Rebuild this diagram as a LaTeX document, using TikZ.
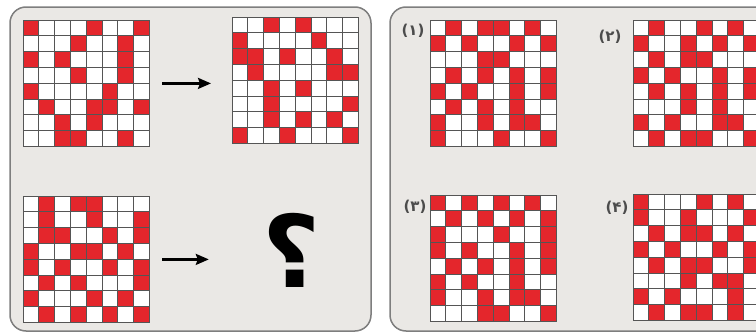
\documentclass[tikz,border=0pt]{standalone}
\usepackage{fontspec}
\usetikzlibrary{calc,arrows.meta}
\newfontfamily\arabicfont[Script=Arabic]{DejaVu Sans}
\definecolor{cellred}{HTML}{E4262C}
\definecolor{panelgray}{HTML}{EAE8E5}
\definecolor{rimgray}{HTML}{7E7E7E}
\definecolor{linegray}{HTML}{555555}
\def\cw{15.8}
% red cells of an 8x8 chart, one list of columns per row
\newcommand\drawchart[2]{%
  \foreach \cells [count=\ri] in {#2}
    \foreach \ci in \cells
      \fill[cellred] ($(#1.north west)+(\ci*\cw-\cw,\ri*\cw-\cw)$) rectangle +(\cw,\cw);
  \foreach \k in {1,...,7} {
    \draw[linegray,line width=.8pt] ($(#1.north west)+(\k*\cw,0)$) -- +(0,8*\cw);
    \draw[linegray,line width=.8pt] ($(#1.north west)+(0,\k*\cw)$) -- +(8*\cw,0);
  }
  \draw[linegray,line width=1pt] (#1.north west) rectangle (#1.south east);
}
\begin{document}
\begin{tikzpicture}
  [x=1pt,y=-1pt,
   chart/.style={minimum width=126.4pt,minimum height=126.4pt,inner sep=0pt,anchor=north west,fill=white},
   panel/.style={draw=rimgray,line width=1.5pt,fill=panelgray,rounded corners=16pt},
   arr/.style={line width=2.4pt,-{Stealth[length=13pt,width=11pt,inset=2pt]}},
   tag/.style={font=\arabicfont\bfseries\fontsize{15}{15}\selectfont,text=black!70,inner sep=0pt}]
  \path[use as bounding box] (0,0) rectangle (756,332);
  \clip (0,0) rectangle (756,332);
  \draw[panel] (10,7) rectangle (371,331);
  \draw[panel] (390,7) rectangle (780,331);

  \node[chart] (g1) at (23,20)  {};
  \node[chart] (g2) at (232,17) {};
  \node[chart] (g3) at (23,196) {};
  \node[chart] (o1) at (430,20) {};
  \node[chart] (o2) at (633,20) {};
  \node[chart] (o3) at (430,195) {};
  \node[chart] (o4) at (633,194) {};

  \node[tag] (t1) at (413,31)  {(۱)};
  \node[tag] (t2) at (610,37)  {(۲)};
  \node[tag] (t3) at (415,207) {(۳)};
  \node[tag] (t4) at (617,208) {(۴)};
  \node[font=\arabicfont\bfseries\fontsize{100}{100}\selectfont,inner sep=0pt] (q) at (292,250) {؟};

  \draw[arr,shorten <=12.6pt,shorten >=21pt] (g1.east) -- (g1.east -| g2.west);
  \draw[arr,shorten <=12.6pt,shorten >=54pt] (g3.east) -- (g3.east -| q.west);

  \drawchart{g1}{{1,5,8},{4,7},{1,3,7},{4,7},{1,6},{2,5,6,8},{3,5},{3,4,7}}
  \drawchart{g2}{{3,5},{1,6},{1,2,4,7},{2,7,8},{3,5},{3,8},{3,5,7},{1,4,8}}
  \drawchart{g3}{{2,4,5},{2,5,8},{2,3,6,8},{1,4,5,7},{1,3,6,8},{2,4,8},{1,5,7},{2,4,6,8}}
  \drawchart{o1}{{2,4,5,7},{1,3,6,8},{4,5},{2,4,6,8},{1,3,6,8},{2,4,6},{1,4,6,7},{1,5,8}}
  \drawchart{o2}{{2,5,7},{1,4,6,8},{2,4,5},{1,3,6,8},{2,4,6,8},{4,6},{1,3,6,7},{2,4,5,8}}
  \drawchart{o3}{{1,3,5,7},{2,4,6,8},{1,5,8},{1,3,6,8},{2,4,6,8},{1,3,6},{1,4,6,7},{4,5,8}}
  \drawchart{o4}{{1,5,7},{1,4,8},{2,4,5,7},{1,3,6,8},{2,4,5,8},{4,6,7},{1,3,7},{2,4,5,7}}
\end{tikzpicture}
\end{document}
